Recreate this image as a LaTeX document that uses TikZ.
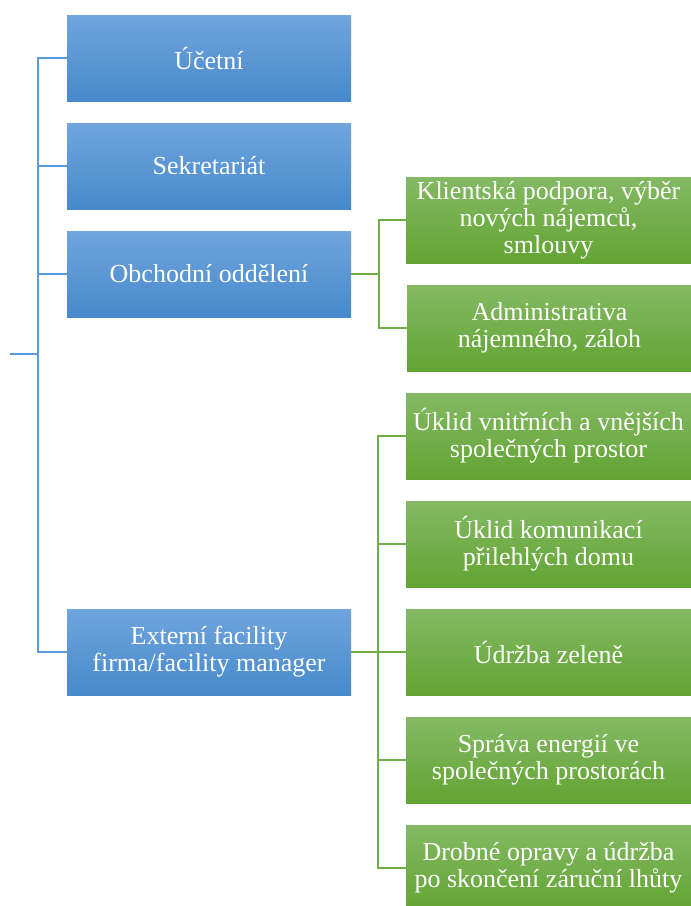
\documentclass[tikz,border=0pt]{standalone}
\usepackage{fontspec}
\setmainfont{Liberation Serif}
\definecolor{bluetop}{HTML}{70A5DD}
\definecolor{bluebot}{HTML}{4789CB}
\definecolor{greentop}{HTML}{84B964}
\definecolor{greenbot}{HTML}{62A432}
\definecolor{blueline}{HTML}{5B9BD5}
\definecolor{greenline}{HTML}{70AD47}
\newcommand{\boxfont}{\fontsize{26}{27}\selectfont}
\tikzset{
  bluebox/.style={rectangle, minimum width=284pt, minimum height=86pt, inner sep=0pt,
    top color=bluetop, bottom color=bluebot, draw=none, text=white, align=center, font=\boxfont},
  greenbox/.style={rectangle, minimum width=285pt, minimum height=86pt, inner sep=0pt,
    top color=greentop, bottom color=greenbot, draw=none, text=white, align=center, font=\boxfont},
  bconn/.style={draw=blueline, line width=1.3pt},
  gconn/.style={draw=greenline, line width=1.3pt}
}
\begin{document}
\begin{tikzpicture}[x=1pt, y=-1pt]
\useasboundingbox (0,0) rectangle (691,906);
% blue boxes
\node[bluebox] (ucet) at (209,58) {Účetní};
\node[bluebox] (sekr) at (209,166) {Sekretariát};
\node[bluebox] (obch) at (209,274) {Obchodní oddělení};
\node[bluebox] (ext) at (209,652) {Externí facility\\firma/facility manager};
% green boxes
\node[greenbox] (g1) at (548.5,220) {Klientská podpora, výběr\\nových nájemců,\\smlouvy};
\node[greenbox] (g2) at (549.5,328) {Administrativa\\nájemného, záloh};
\node[greenbox] (g3) at (548.5,436) {Úklid vnitřních a vnějších\\společných prostor};
\node[greenbox] (g4) at (548.5,544) {Úklid komunikací\\přilehlých domu};
\node[greenbox] (g5) at (548.5,652) {Údržba zeleně};
\node[greenbox] (g6) at (548.5,760) {Správa energií ve\\společných prostorách};
\node[greenbox] (g7) at (548.5,868) {Drobné opravy a údržba\\po skončení záruční lhůty};
% blue connectors
\coordinate (root) at (10,354);
\coordinate (rj) at (38,354);
\draw[bconn] (root) -- (rj);
\draw[bconn] (rj) |- (ucet.west);
\draw[bconn] (rj) |- (sekr.west);
\draw[bconn] (rj) |- (obch.west);
\draw[bconn] (rj) |- (ext.west);
% green connectors
\coordinate (oj) at (379,274);
\draw[gconn] (obch.east) -- (oj);
\draw[gconn] (oj) |- (g1.west);
\draw[gconn] (oj) |- (g2.west);
\coordinate (ej) at (378,652);
\draw[gconn] (ext.east) -- (ej);
\draw[gconn] (ej) |- (g3.west);
\draw[gconn] (ej) |- (g4.west);
\draw[gconn] (ej) |- (g5.west);
\draw[gconn] (ej) |- (g6.west);
\draw[gconn] (ej) |- (g7.west);
\end{tikzpicture}
\end{document}
